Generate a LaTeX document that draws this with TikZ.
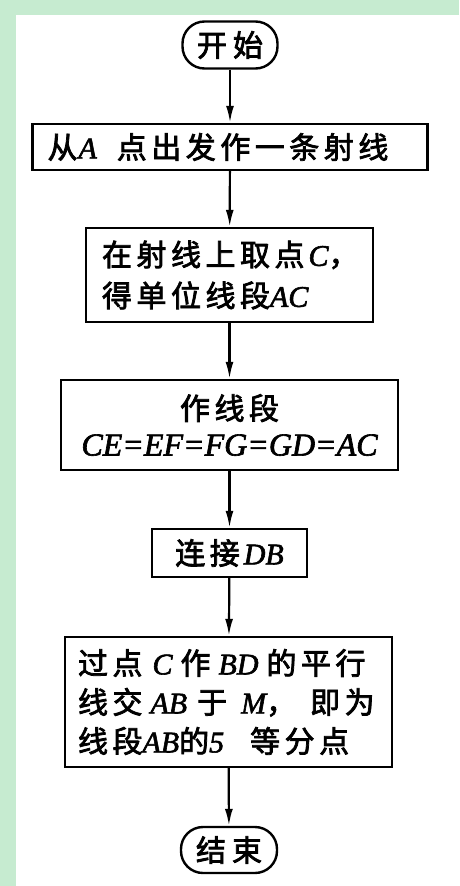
\documentclass[tikz,border=0pt]{standalone}
\usepackage{fontspec}
\usetikzlibrary{arrows.meta}
\newfontfamily\cjk{Noto Sans CJK SC}[FakeBold=2.5,LetterSpace=15]
\newfontfamily\lat{Liberation Serif}[FakeBold=2]
\newcommand{\Lv}[1]{{\lat\itshape #1}}
\definecolor{bggreen}{RGB}{198,235,208}
\tikzset{
  box/.style={draw, line width=2.4pt, inner sep=0pt, font=\cjk\fontsize{30}{41}\selectfont},
  term/.style={draw, line width=2.4pt, rounded corners=22pt, inner sep=0pt, font=\cjk\fontsize{30}{34}\selectfont},
  arr/.style={line width=2.2pt, -{Latex[length=17pt,width=8pt]}}
}
\begin{document}
\begin{tikzpicture}[x=1pt,y=-1pt]
\useasboundingbox (0,0) rectangle (459,886);
\fill[bggreen] (0,0) rectangle (459,886);
\fill[white] (16,15) rectangle (459,886);

\node[term, minimum width=95pt, minimum height=47pt] (start) at (230,45) {开\hspace{6pt}始};
\node[box, text width=365pt, inner xsep=15pt, minimum height=46pt, align=left] (b1) at (230,147) {从\hspace{1pt}\Lv{A}\hspace{20pt}点出发作一条射线};
\node[box, text width=255pt, inner xsep=16pt, minimum height=94pt, align=left] (b2) at (229.5,275) {在射线上取点\hspace{4pt}\Lv{C}\makebox[12pt][l]{，}\\得单位线段\Lv{AC}};
\node[box, minimum width=337pt, minimum height=90pt, align=center] (b3) at (229.5,425) {作线段\\[-5pt]{\lat\itshape\fontsize{32}{34}\selectfont CE=EF=FG=GD=AC}};
\node[box, minimum width=155pt, minimum height=48pt] (b4) at (229.5,553) {连接\hspace{4pt}\Lv{DB}};
\node[box, text width=301pt, inner xsep=13pt, minimum height=130pt, align=left] (b5) at (228.5,702) {过点\hspace{10pt}\Lv{C}\hspace{8pt}作\hspace{8pt}\Lv{BD}\hspace{8pt}的平行\\[-2pt]线交\hspace{8pt}\Lv{AB}\hspace{10pt}于\hspace{14pt}\Lv{M}，\hspace{14pt}即为\\[-2pt]线段\Lv{AB}的\Lv{5}\hspace{26pt}等分点};
\node[term, minimum width=96pt, minimum height=46pt] (end) at (229,850) {结\hspace{6pt}束};

\draw[arr] (start) -- (b1);
\draw[arr] (b1) -- (b2);
\draw[arr] (b2) -- (b3);
\draw[arr] (b3) -- (b4);
\draw[arr] (b4) -- (b5);
\draw[arr] (b5) -- (end);
\end{tikzpicture}
\end{document}
